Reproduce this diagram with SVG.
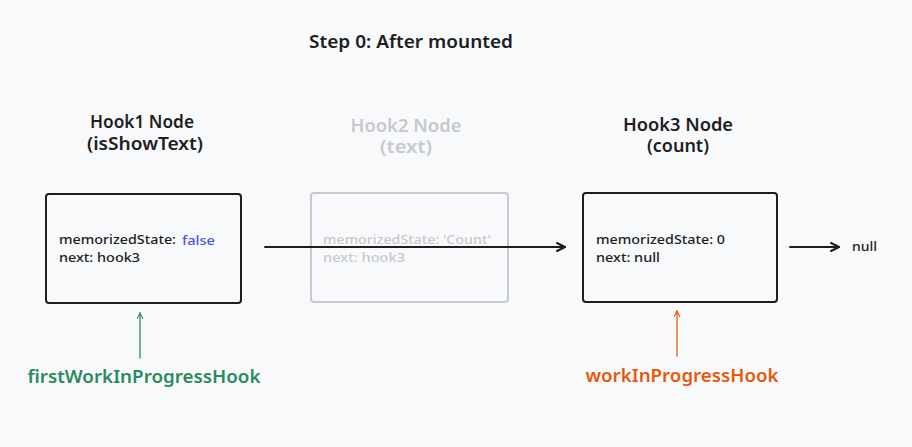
<svg xmlns="http://www.w3.org/2000/svg" width="912" height="447" viewBox="0 0 912 447">
<defs>
<style>
text{font-family:"Noto Sans","Liberation Sans",sans-serif;fill:#1e1e1e}
.title{font-size:17px;font-weight:600;text-anchor:middle}
.body{font-size:13px;font-weight:500}
.box{fill:none;stroke:#1e1e1e;stroke-width:2}
.faded text{fill:#c6c9ce}
.faded .box{stroke:#c6c9ce}
.ptr{font-size:18px;font-weight:600;text-anchor:middle}
</style>
<marker id="ah" viewBox="0 0 10 10" refX="9" refY="5" markerWidth="10" markerHeight="10" markerUnits="userSpaceOnUse" orient="auto">
<path d="M1,1 L9,5 L1,9" fill="none" stroke="#1e1e1e" stroke-width="2" stroke-linecap="round" stroke-linejoin="round"/>
</marker>
<marker id="ahg" viewBox="0 0 10 10" refX="9" refY="5" markerWidth="7" markerHeight="7" markerUnits="userSpaceOnUse" orient="auto">
<path d="M1,1 L9,5 L1,9" fill="none" stroke="#2b8a5e" stroke-width="1.5" stroke-linecap="round"/>
</marker>
<marker id="aho" viewBox="0 0 10 10" refX="9" refY="5" markerWidth="7" markerHeight="7" markerUnits="userSpaceOnUse" orient="auto">
<path d="M1,1 L9,5 L1,9" fill="none" stroke="#e8590c" stroke-width="1.5" stroke-linecap="round"/>
</marker>
</defs>
<rect width="912" height="447" fill="#f8f9fb"/>
<text id="heading" x="411" y="48" class="title" textLength="204" lengthAdjust="spacingAndGlyphs">Step 0: After mounted</text>

<g id="hook1">
<text x="142" y="128" class="title" textLength="104" lengthAdjust="spacingAndGlyphs">Hook1 Node</text>
<text x="145" y="150" class="title" textLength="116" lengthAdjust="spacingAndGlyphs">(isShowText)</text>
<rect x="46" y="194" width="195" height="109" rx="3" class="box"/>
<text x="59" y="244" class="body" textLength="117" lengthAdjust="spacingAndGlyphs">memorizedState:</text>
<text x="182" y="245" class="body" style="fill:#4a56e2" textLength="33" lengthAdjust="spacingAndGlyphs">false</text>
<text x="59" y="262" class="body" textLength="81" lengthAdjust="spacingAndGlyphs">next: hook3</text>
</g>

<g id="hook2" class="faded">
<text x="406" y="132" class="title" textLength="111" lengthAdjust="spacingAndGlyphs">Hook2 Node</text>
<text x="406" y="153" class="title" textLength="52" lengthAdjust="spacingAndGlyphs">(text)</text>
<rect x="311" y="193" width="197" height="109" rx="3" class="box"/>
<text x="323" y="244" class="body" textLength="168" lengthAdjust="spacingAndGlyphs">memorizedState: 'Count'</text>
<text x="323" y="262" class="body" textLength="82" lengthAdjust="spacingAndGlyphs">next: hook3</text>
</g>

<g id="hook3">
<text x="678" y="131" class="title" textLength="110" lengthAdjust="spacingAndGlyphs">Hook3 Node</text>
<text x="678" y="152" class="title" textLength="62" lengthAdjust="spacingAndGlyphs">(count)</text>
<rect x="583" y="193" width="194" height="109" rx="3" class="box"/>
<text x="596" y="244" class="body" textLength="129" lengthAdjust="spacingAndGlyphs">memorizedState: 0</text>
<text x="596" y="262" class="body" textLength="64" lengthAdjust="spacingAndGlyphs">next: null</text>
</g>

<g id="null">
<text x="852" y="251" class="body" textLength="25" lengthAdjust="spacingAndGlyphs">null</text>
</g>

<g id="firstWorkInProgressHook">
<text x="144" y="383" class="ptr" style="fill:#2b8a5e" textLength="233" lengthAdjust="spacingAndGlyphs">firstWorkInProgressHook</text>
</g>

<g id="workInProgressHook">
<text x="682" y="382" class="ptr" style="fill:#e8590c" textLength="193" lengthAdjust="spacingAndGlyphs">workInProgressHook</text>
</g>

<g id="connectors" fill="none" stroke-linecap="round">
<line x1="265" y1="247" x2="565" y2="247" stroke="#1e1e1e" stroke-width="2" marker-end="url(#ah)"/>
<line x1="790" y1="247" x2="839" y2="247" stroke="#1e1e1e" stroke-width="2" marker-end="url(#ah)"/>
<line x1="140" y1="358" x2="140" y2="313" stroke="#2b8a5e" stroke-width="1.3" marker-end="url(#ahg)"/>
<line x1="677" y1="356" x2="677" y2="311" stroke="#e8590c" stroke-width="1.3" marker-end="url(#aho)"/>
</g>
</svg>
